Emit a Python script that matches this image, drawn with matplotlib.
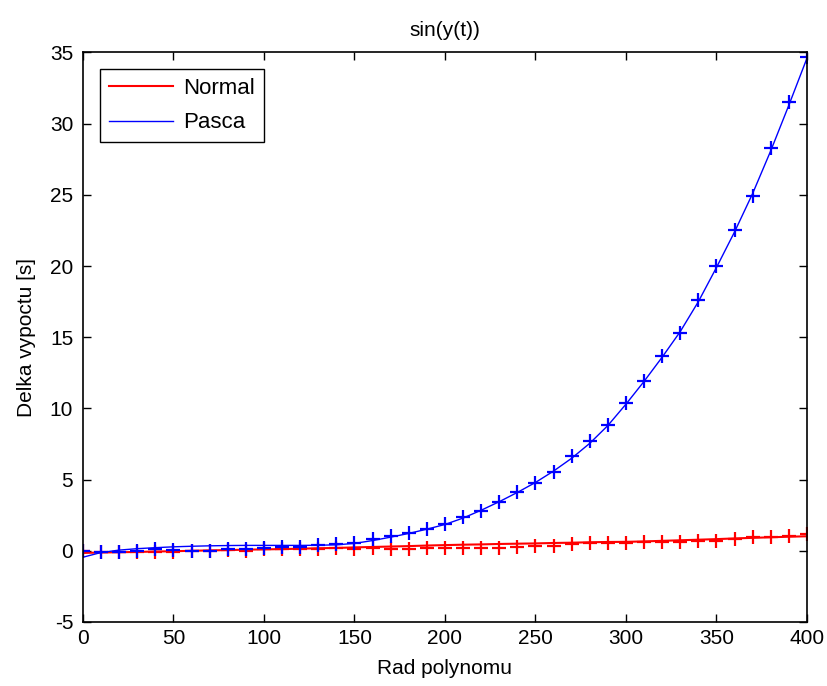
import numpy as np
import matplotlib
matplotlib.use('Agg')
import matplotlib.pyplot as plt

# polynomial degree (x axis)
x = np.arange(0, 401, 10)

normal_pts = [0.0, -0.1, -0.1, -0.05, -0.1, -0.05, 0.0, 0.0, 0.05, 0.0,
              0.1, 0.1, 0.1, 0.15, 0.2, 0.15, 0.2, 0.15, 0.15, 0.2,
              0.22, 0.22, 0.22, 0.18, 0.25, 0.35, 0.35, 0.45, 0.55, 0.55,
              0.52, 0.6, 0.6, 0.64, 0.7, 0.7, 0.8, 0.98, 0.95, 1.04, 1.18]
pasca_pts = [0.0, -0.05, -0.05, 0.0, 0.1, 0.05, 0.0, 0.0, 0.1, 0.1,
             0.2, 0.3, 0.3, 0.4, 0.48, 0.58, 0.86, 1.05, 1.23, 1.52,
             1.87, 2.4, 2.8, 3.4, 4.1, 4.76, 5.55, 6.63, 7.68, 8.86,
             10.38, 11.9, 13.66, 15.3, 17.6, 20.0, 22.5, 24.9, 28.3, 31.5, 34.66]

# fitted curves
normal_fit = [-0.15, -0.12, -0.1, -0.08, -0.05, -0.03, 0.0, 0.03, 0.05, 0.08,
              0.1, 0.12, 0.15, 0.18, 0.2, 0.24, 0.27, 0.3, 0.33, 0.37,
              0.4, 0.43, 0.45, 0.48, 0.5, 0.52, 0.55, 0.57, 0.6, 0.62,
              0.63, 0.66, 0.7, 0.74, 0.78, 0.82, 0.87, 0.91, 0.95, 0.99, 1.02]
pasca_fit = [-0.45, -0.12, 0.05, 0.15, 0.22, 0.28, 0.32, 0.35, 0.37, 0.38,
             0.38, 0.38, 0.38, 0.39, 0.42, 0.52, 0.72, 0.96, 1.22, 1.52,
             1.85, 2.3, 2.85, 3.45, 4.1, 4.8, 5.6, 6.5, 7.55, 8.8,
             10.3, 11.9, 13.6, 15.4, 17.5, 19.9, 22.4, 25.1, 28.1, 31.3, 34.6]

plt.rcParams['font.family'] = ['Liberation Sans', 'DejaVu Sans']
plt.rcParams['axes.unicode_minus'] = False

fig = plt.figure(figsize=(8.28, 6.86), dpi=100)
ax = fig.add_axes([0.1002, 0.0933, 0.8744, 0.8302])

ax.plot(x, normal_fit, color='#ff0000', linewidth=1.5, label='Normal')
ax.plot(x, normal_pts, '+', color='#ff0000', markersize=10, markeredgewidth=1.6)
ax.plot(x, pasca_fit, color='#0000ff', linewidth=1.0, label='Pasca')
ax.plot(x, pasca_pts, '+', color='#0000ff', markersize=10, markeredgewidth=1.6)

ax.set_xlim(0, 400)
ax.set_ylim(-5, 35)
ax.set_xticks(np.arange(0, 401, 50))
ax.set_yticks(np.arange(-5, 36, 5))
ax.tick_params(direction='in', length=6, width=1, top=True, right=True,
               labelsize=15)
ax.tick_params(axis='y', pad=7)
ax.tick_params(axis='x', pad=5)
for s in ax.spines.values():
    s.set_linewidth(1.2)

ax.set_title('sin(y(t))', fontsize=15, pad=12)
ax.set_xlabel('Rad polynomu', fontsize=15, labelpad=8)
ax.set_ylabel('Delka vypoctu [s]', fontsize=15, labelpad=10)

leg = ax.legend(loc='upper left', fontsize=16, fancybox=False, framealpha=1,
                edgecolor='black', borderaxespad=0.75, handlelength=2.9,
                handletextpad=0.45, labelspacing=0.6, borderpad=0.4)
leg.get_frame().set_linewidth(1.0)

fig.savefig('out.png', dpi=100)
